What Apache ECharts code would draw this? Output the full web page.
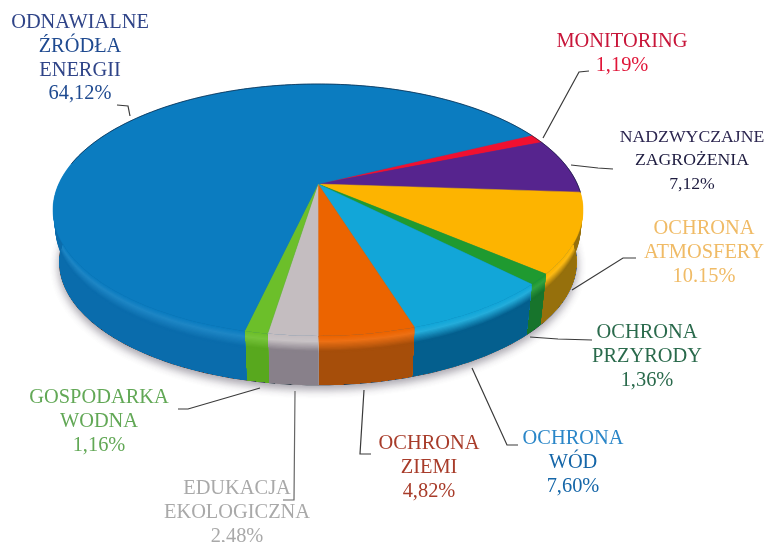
<!DOCTYPE html>
<html>
<head>
<meta charset="utf-8">
<title>Wydatki</title>
<style>
html, body { margin: 0; padding: 0; background: #fff; }
#main { width: 770px; height: 542px; }
</style>
<script src="https://cdn.jsdelivr.net/npm/echarts@6/dist/echarts.min.js"></script>
</head>
<body>
<div id="main"></div>
<script>
// clockwise from the red slice, the way the picture runs
var categories = ['MONITORING', 'NADZWYCZAJNE\nZAGROŻENIA', 'OCHRONA\nATMOSFERY', 'OCHRONA\nPRZYRODY',
    'OCHRONA\nWÓD', 'OCHRONA\nZIEMI', 'EDUKACJA\nEKOLOGICZNA', 'GOSPODARKA\nWODNA', 'ODNAWIALNE\nŹRÓDŁA\nENERGII'];
var values = [1.19, 7.12, 10.15, 1.36, 7.60, 4.82, 2.48, 1.16, 64.12];
var valueLabels = ['1,19%', '7,12%', '10.15%', '1,36%', '7,60%', '4,82%', '2,48%', '1,16%', '64,12%'];

var faceColors = ['#f01030', '#56248e', '#fdb400', '#1f9a30', '#12a6d8', '#ec6400', '#c4bdc0', '#6cbf2a', '#0b7cc0'];
var wallColors = ['#a80c24', '#3c1a66', '#96700c', '#17742c', '#045f8e', '#a64e0a', '#88808a', '#58a81e', '#0a6cac'];
var textColors = ['#c8163a', '#2c2650', '#f0bb66', '#2a6a4c', '#2a86c8', '#a83c2a', '#a9a9a9', '#62a856', '#2f4488'];
var accentColors = ['#e01538', '#1e1c40', '#f0bb66', '#2a6a4c', '#1566a8', '#a83c2a', '#a9a9a9', '#62a856', '#1f4a90'];

// layout of the labels and leader lines
var fontSizes = [20.4, 17.7, 20.4, 20.4, 20.4, 20.4, 20.4, 20.4, 20.4];
var labelX = [622, 692, 704, 647, 573, 429, 237, 99, 80];
var labelY = [42, 137, 229, 333, 439, 444, 489, 398, 23];
var leaders = [
    [[589, 71], [579, 72], [543, 138]],
    [[613, 169], [598, 168], [571, 165]],
    [[636, 258], [623, 258], [572, 290]],
    [[592, 340], [558, 339], [530, 337]],
    [[518, 445], [507, 445], [472, 368]],
    [[371, 454], [360, 454], [364, 390]],
    [[283, 500], [294, 500], [295, 391]],
    [[178, 409], [188, 409], [260, 388]],
    [[117, 105], [128, 106], [130, 116]]
];

var startAngle = -26.1;
var cx = 318, cy = 184;      // apex of the slices
var rx = 259.3, ry = 120.6, tilt = 0.206;
var ellipseY = 210, taper = 0.975, depth = 52;
var bandCount = 14;

var total = values.reduce(function (a, b) { return a + b; }, 0);
var starts = [];
values.reduce(function (acc, v, i) { starts[i] = acc; return acc + v / total * 360; }, startAngle);

function topPoint(deg) {
    var t = deg * Math.PI / 180, u = Math.cos(t), v = Math.sin(t), d = 1 - tilt * v;
    return [cx + rx * u / d, cy + ry * v / d];
}
function bottomPoint(deg) {
    var p = topPoint(deg);
    return [cx + (p[0] - cx) * taper, ellipseY + (p[1] - ellipseY) * taper + depth];
}
function arc(fn, from, to) {
    var pts = [], n = Math.max(2, Math.ceil(to - from));
    for (var i = 0; i <= n; i++) pts.push(fn(from + (to - from) * i / n));
    return pts;
}
function wallShade(i, t) {
    var light = echarts.color.lift(faceColors[i], 0.08);
    if (t < 0.1) return echarts.color.lerp(t / 0.1, [faceColors[i], light]);
    if (t < 0.3) return echarts.color.lerp((t - 0.1) / 0.2, [light, wallColors[i]]);
    return wallColors[i];
}
var rows = values.map(function (v, i) { return [i, v]; });

function renderBase() {
    return {
        type: 'polygon',
        shape: { points: arc(bottomPoint, 0, 360) },
        style: { fill: '#0a5c90', stroke: '#10202c', lineWidth: 1.2, shadowColor: 'rgba(60,50,70,0.45)', shadowBlur: 9, shadowOffsetY: 4 }
    };
}
// the wall is painted downwards in overlapping bands that all reach the foot, so no seams show
function renderWall(params, api) {
    var i = api.value(0), a = starts[i], b = a + api.value(1) / total * 360;
    var children = [];
    var foot = arc(bottomPoint, a, b).reverse();
    for (var k = 0; k <= bandCount; k++) {
        var t = k / bandCount * 0.35;
        var edge = arc(function (deg) {
            var p = topPoint(deg), q = bottomPoint(deg);
            return [p[0] + (q[0] - p[0]) * t, p[1] + (q[1] - p[1]) * t];
        }, a, b);
        children.push({
            type: 'polygon',
            shape: { points: edge.concat(foot) },
            style: { fill: wallShade(i, t) }
        });
    }
    return { type: 'group', children: children };
}
function renderFace(params, api) {
    var i = api.value(0), a = starts[i], b = a + api.value(1) / total * 360;
    return {
        type: 'polygon',
        shape: { points: [[cx, cy]].concat(arc(topPoint, a, b)) },
        style: { fill: faceColors[i], stroke: faceColors[i], lineWidth: 0.5 }
    };
}
function renderRim() {
    return {
        type: 'polyline',
        shape: { points: arc(topPoint, 190, 364) },
        style: { fill: null, stroke: 'rgba(15,30,55,0.65)', lineWidth: 1 }
    };
}
function renderLabel(params, api) {
    var i = api.value(0);
    var lines = categories[i].split('\n').concat(valueLabels[i]);
    var children = [{
        type: 'polyline',
        shape: { points: leaders[i] },
        style: { fill: null, stroke: i === 6 ? '#666' : '#3a3a3a', lineWidth: 1.2 }
    }];
    lines.forEach(function (line, k) {
        children.push({
            type: 'text',
            x: labelX[i],
            y: labelY[i] + k * 23.7,
            style: {
                text: line,
                fill: k === 1 || k === lines.length - 1 ? accentColors[i] : textColors[i],
                font: fontSizes[i] + 'px "Liberation Serif"',
                align: 'center',
                verticalAlign: 'middle'
            }
        });
    });
    return { type: 'group', children: children };
}

var myChart = echarts.init(document.getElementById('main'));
var option = {
    animation: false,
    backgroundColor: '#fff',
    series: [
        { type: 'custom', coordinateSystem: 'none', silent: true, data: [[0, 0]], renderItem: renderBase },
        { type: 'custom', coordinateSystem: 'none', silent: true, data: rows, renderItem: renderWall },
        { type: 'custom', coordinateSystem: 'none', silent: true, data: rows, renderItem: renderFace },
        { type: 'custom', coordinateSystem: 'none', silent: true, data: [[0, 0]], renderItem: renderRim },
        { type: 'custom', coordinateSystem: 'none', silent: true, data: rows, renderItem: renderLabel }
    ]
};
myChart.setOption(option);
</script>
</body>
</html>
